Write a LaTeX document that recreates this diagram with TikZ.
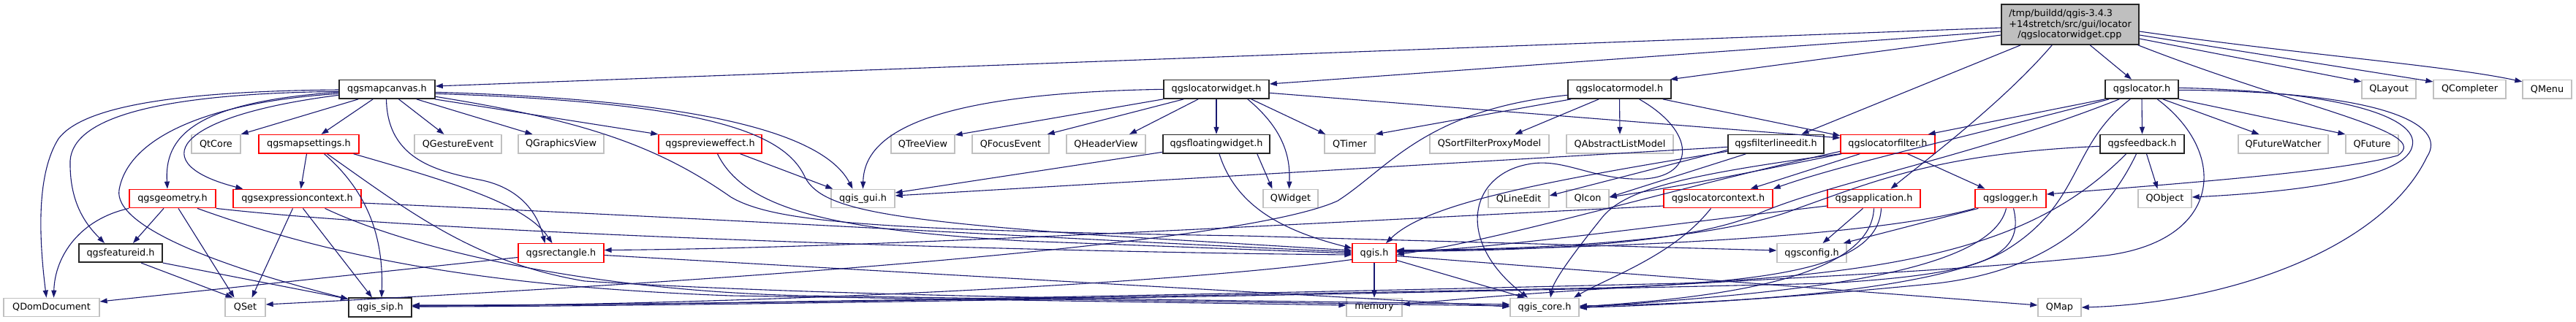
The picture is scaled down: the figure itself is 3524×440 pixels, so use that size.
\documentclass[tikz,border=0pt]{standalone}
\usepackage{fontspec}
\setmainfont{DejaVu Sans}
\usetikzlibrary{arrows.meta}
\definecolor{edgec}{HTML}{191970}
\definecolor{grayb}{HTML}{C0C0C0}
\definecolor{mainf}{HTML}{BFBFBF}
\begin{document}
\begin{tikzpicture}[x=1pt,y=-1pt,
  box/.style={draw, fill=white, line width=1.3pt, inner sep=0pt, minimum height=25.5pt,
    font=\fontsize{12.8}{14.7}\selectfont, text=black},
  ext/.style={box, draw=grayb},
  doc/.style={box, draw=black!85, line width=1.6pt},
  redb/.style={box, draw=red},
  e/.style={draw=edgec, line width=1.1pt, -{Triangle[length=10pt,width=7pt]}}
]
\fill[white] (0,0) rectangle (3524,440);
\useasboundingbox (0,0) rectangle (3524,440);

% main
\node[doc, fill=mainf, minimum width=188pt, minimum height=55pt, align=left] (M) at (2832,33.5)
  {/tmp/buildd/qgis-3.4.3\\+14stretch/src/gui/locator\\\hspace*{12pt}/qgslocatorwidget.cpp};
% row 1
\node[doc, minimum width=131pt] (mc) at (529.5,122.3) {qgsmapcanvas.h};
\node[doc, minimum width=144pt] (lw) at (1664,122.3) {qgslocatorwidget.h};
\node[doc, minimum width=141pt] (lm) at (2215.5,122.3) {qgslocatormodel.h};
\node[doc, minimum width=100pt] (lo) at (2930,122.3) {qgslocator.h};
\node[ext, minimum width=74pt] (qlayout) at (3268,122.3) {QLayout};
\node[ext, minimum width=99pt] (qcompleter) at (3378.5,122.3) {QCompleter};
\node[ext, minimum width=67pt] (qmenu) at (3484.5,122.3) {QMenu};
% row 2
\node[ext, minimum width=67pt] (qtcore) at (295.5,197.3) {QtCore};
\node[redb, minimum width=137pt] (ms) at (422.5,197.3) {qgsmapsettings.h};
\node[ext, minimum width=119pt] (qgesture) at (626.5,197.3) {QGestureEvent};
\node[ext, minimum width=117pt] (qgraphics) at (767.5,197.3) {QGraphicsView};
\node[redb, minimum width=141pt] (pe) at (971.5,197.3) {qgsprevieweffect.h};
\node[ext, minimum width=87pt] (qtree) at (1262.5,197.3) {QTreeView};
\node[ext, minimum width=105pt] (qfocus) at (1382.5,197.3) {QFocusEvent};
\node[ext, minimum width=108pt] (qheader) at (1513,197.3) {QHeaderView};
\node[doc, minimum width=146pt] (fw) at (1664,197.3) {qgsfloatingwidget.h};
\node[ext, minimum width=69pt] (qtimer) at (1846.5,197.3) {QTimer};
\node[ext, minimum width=163pt] (qsfpm) at (2037.5,197.3) {QSortFilterProxyModel};
\node[ext, minimum width=146pt] (qalm) at (2216,197.3) {QAbstractListModel};
\node[doc, minimum width=131pt] (fle) at (2429.5,197.3) {qgsfilterlineedit.h};
\node[redb, minimum width=129pt] (lf) at (2582.5,197.3) {qgslocatorfilter.h};
\node[doc, minimum width=115pt] (fb) at (2930.5,197.3) {qgsfeedback.h};
\node[ext, minimum width=123pt] (qfw) at (3123.5,197.3) {QFutureWatcher};
\node[ext, minimum width=72pt] (qfuture) at (3245,197.3) {QFuture};
% row 3
\node[redb, minimum width=118pt] (geo) at (236,272) {qgsgeometry.h};
\node[redb, minimum width=175pt] (ec) at (406.5,272) {qgsexpressioncontext.h};
\node[ext, minimum width=87pt] (gui) at (1180.5,272) {qgis\_gui.h};
\node[ext, minimum width=75pt] (qwidget) at (1765.5,272) {QWidget};
\node[ext, minimum width=83pt] (qlineedit) at (2077.5,272) {QLineEdit};
\node[ext, minimum width=58pt] (qicon) at (2172,272) {QIcon};
\node[redb, minimum width=149pt] (lc) at (2350.5,272) {qgslocatorcontext.h};
\node[redb, minimum width=127pt] (app) at (2563.5,272) {qgsapplication.h};
\node[redb, minimum width=97pt] (log) at (2750.5,272) {qgslogger.h};
\node[ext, minimum width=73pt] (qobject) at (2961.5,272) {QObject};
% row 4
\node[doc, minimum width=114pt] (fid) at (165,346.5) {qgsfeatureid.h};
\node[redb, minimum width=117pt] (rect) at (767.5,346.5) {qgsrectangle.h};
\node[redb, minimum width=60pt] (qgis) at (1880,346.5) {qgis.h};
\node[ext, minimum width=95pt] (cfg) at (2478.5,346.5) {qgsconfig.h};
% row 5
\node[ext, minimum width=131pt] (qdom) at (70.5,421) {QDomDocument};
\node[ext, minimum width=55pt] (qset) at (335.5,421) {QSet};
\node[doc, minimum width=86pt] (sip) at (520,421) {qgis\_sip.h};
\node[ext, minimum width=76pt] (mem) at (1880,421) {memory};
\node[ext, minimum width=94pt] (core) at (2113,421) {qgis\_core.h};
\node[ext, minimum width=59pt] (qmap) at (2817.5,421) {QMap};

% ---- edges from main
\draw[e] ([yshift=-4.5]M.west) -- ([yshift=4.3]mc.east);
\draw[e] ([yshift=-9.5]M.west) -- ([yshift=7.3]lw.east);
\draw[e] ([yshift=-14.5]M.west) -- ([xshift=-2]lm.north east);
\draw[e] ([xshift=27]M.south west) -- ([xshift=35]fle.north);
\draw[e] ([xshift=70]M.south west) .. controls (2740,140) and (2640,215) .. ([xshift=23]app.north);
\draw[e] ([xshift=122]M.south west) -- ([xshift=-14]lo.north);
\draw[e] ([yshift=-19.5]M.east) -- ([yshift=-3]qlayout.north west);
\draw[e] ([yshift=-14.5]M.east) -- ([yshift=-3]qcompleter.north west);
\draw[e] ([yshift=-9.5]M.east) .. controls (3150,75) and (3350,90) .. ([yshift=-3]qmenu.north west);
\draw[e] ([xshift=-2]M.south east) .. controls (3150,150) and (3330,180) .. (3280,213) .. controls (3200,235) and (3000,250) .. ([yshift=6]log.east);

% ---- qgslocator.h
\draw[e] (lo.south west) -- ([xshift=-10]lf.north east);
\draw[e] ([xshift=6]lo.south west) .. controls (2700,185) and (2520,225) .. (lc.north east);
\draw[e] ([xshift=20]lo.south west) .. controls (2700,215) and (2500,250) .. (2400,295) .. controls (2300,335) and (2100,343) .. ([yshift=2]qgis.east);
\draw[e] ([xshift=35]lo.south west) .. controls (2830,200) and (2850,280) .. (2740,345) .. controls (2650,395) and (2400,415) .. ([yshift=2]core.east);
\draw[e] ([xshift=72]lo.south west) .. controls (3050,210) and (3040,330) .. (2880,350) .. controls (2600,380) and (2250,385) .. ([yshift=4]mem.east);
\draw[e] (lo.south) -- (fb.north);
\draw[e] ([xshift=-22]lo.south east) -- ([xshift=-33]qfw.north);
\draw[e] (lo.south east) -- (qfuture.north west);
\draw[e] ([yshift=2]lo.east) .. controls (3200,125) and (3310,160) .. (3300,200) .. controls (3290,250) and (3100,265) .. ([yshift=2]qobject.east);
\draw[e] ([yshift=-1]lo.east) .. controls (3260,125) and (3350,170) .. (3320,215) .. controls (3260,340) and (3050,415) .. (qmap.east);

% ---- qgsfeedback.h
\draw[e] ([xshift=6]fb.south) -- ([xshift=-10]qobject.north);
\draw[e] ([xshift=-8]fb.south) .. controls (2880,300) and (2800,370) .. (2650,388) .. controls (2480,405) and (2300,418) .. (core.east);
\draw[e] ([yshift=-3]fb.west) .. controls (2650,210) and (2560,250) .. (2460,285) .. controls (2350,330) and (2100,342) .. ([yshift=4]qgis.east);
\draw[e] ([xshift=-22]fb.south) .. controls (2800,320) and (2650,372) .. (2300,388) .. controls (1600,405) and (900,418) .. ([yshift=2]sip.east);

% ---- qgslogger.h
\draw[e] ([xshift=5]log.south west) -- ([xshift=-5]cfg.north east);
\draw[e] ([xshift=-6]log.south) .. controls (2720,390) and (2350,405) .. ([yshift=-1]core.east);
\draw[e] ([xshift=4]log.south) .. controls (2770,350) and (2720,375) .. (2500,388) .. controls (1800,405) and (900,420) .. ([yshift=1]sip.east);
\draw[e] (log.south west) .. controls (2560,325) and (2200,340) .. ([yshift=3]qgis.east);

% ---- qgsapplication.h
\draw[e] ([xshift=-15]app.south) -- ([xshift=15]cfg.north);
\draw[e] (app.south) .. controls (2560,370) and (2400,405) .. ([yshift=1]core.east);
\draw[e] ([yshift=-10]app.west) .. controls (2300,305) and (2050,340) .. ([yshift=1]qgis.east);
\draw[e] ([xshift=10]app.south) .. controls (2570,360) and (2450,385) .. (2200,394) .. controls (1500,408) and (900,418) .. ([yshift=3]sip.east);

% ---- qgslocatorcontext.h
\draw[e] ([yshift=-10]lc.west) .. controls (1800,305) and (1200,340) .. ([yshift=4]rect.east);
\draw[e] ([xshift=-10]lc.south) .. controls (2290,350) and (2200,380) .. ([xshift=40]core.north);

% ---- qgslocatorfilter.h
\draw[e] ([xshift=27]lf.south west) -- ([xshift=-31]lc.north east);
\draw[e] ([xshift=2]lf.south west) .. controls (2400,235) and (2300,255) .. ([yshift=2]qicon.east);
\draw[e] ([xshift=-38]lf.south east) -- ([xshift=-35]log.north);
\draw[e] (lf.south west) .. controls (2300,240) and (2220,260) .. (2190,300) .. controls (2150,350) and (2125,385) .. ([xshift=8]core.north);
\draw[e] ([yshift=-10]lf.west) .. controls (2300,255) and (2050,330) .. ([yshift=-2]qgis.east);

% ---- qgsfilterlineedit.h
\draw[e] ([yshift=-8]fle.west) -- ([yshift=4]qlineedit.east);
\draw[e] ([xshift=25]fle.south west) -- ([yshift=2]qicon.east);
\draw[e] ([yshift=-4]fle.west) -- ([yshift=4]gui.east);
\draw[e] ([yshift=-10]fle.west) .. controls (2100,250) and (1950,280) .. ([xshift=16]qgis.north);

% ---- qgslocatormodel.h
\draw[e] ([xshift=5]lm.south west) -- (qtimer.north east);
\draw[e] ([xshift=43]lm.south west) -- ([xshift=35]qsfpm.north);
\draw[e] (lm.south) -- (qalm.north);
\draw[e] ([xshift=-12]lm.south east) -- ([yshift=-2]lf.north west);
\draw[e] ([xshift=27]lm.south) .. controls (2320,180) and (2320,240) .. (2250,245) .. controls (2180,248) and (2140,215) .. (2090,225) .. controls (2010,240) and (1990,330) .. ([xshift=-23]core.north);
\draw[e] ([yshift=-8]lm.west) .. controls (1950,150) and (1900,230) .. (1830,275) .. controls (1700,335) and (1000,385) .. ([yshift=4]qset.east);

% ---- qgslocatorwidget.h
\draw[e] (lw.west) .. controls (1250,128) and (1182,190) .. (gui.north);
\draw[e] (lw.south west) -- ([yshift=-1]qtree.north east);
\draw[e] ([xshift=28]lw.south west) -- ([xshift=-3]qfocus.north east);
\draw[e] ([xshift=48]lw.south west) -- ([xshift=32]qheader.north);
\draw[e] (lw.south) -- (fw.north);
\draw[e] ([xshift=-25]lw.south east) -- ([xshift=2]qtimer.north west);
\draw[e] ([xshift=-30]lw.south east) .. controls (1760,180) and (1765,220) .. ([xshift=-2]qwidget.north);
\draw[e] ([yshift=-5]lw.east) -- ([yshift=-5]lf.north west);

% ---- qgsfloatingwidget.h
\draw[e] ([yshift=-11]fw.west) -- ([yshift=8]gui.east);
\draw[e] ([xshift=-18]fw.south east) -- ([xshift=-25]qwidget.north);
\draw[e] ([xshift=4]fw.south) .. controls (1690,280) and (1750,315) .. ([yshift=6.5]qgis.west);

% ---- qgsprevieweffect.h
\draw[e] ([xshift=-30]pe.south east) -- ([xshift=3]gui.north west);
\draw[e] ([xshift=10]pe.south) .. controls (1020,290) and (1150,315) .. (1400,330) -- ([yshift=-0.5]qgis.west);

% ---- qgsmapcanvas.h
\draw[e] ([yshift=-0.7]mc.west) .. controls (220,125) and (110,150) .. (80,190) .. controls (55,230) and (50,300) .. ([xshift=-7]qdom.north);
\draw[e] ([yshift=-3]mc.west) .. controls (220,128) and (100,160) .. (96,220) .. controls (95,275) and (115,305) .. ([xshift=-22]fid.north);
\draw[e] ([yshift=-6]mc.west) .. controls (280,140) and (175,190) .. (163,260) .. controls (155,310) and (300,365) .. ([yshift=-2]sip.north west);
\draw[e] ([yshift=-4]mc.west) .. controls (260,140) and (225,190) .. ([xshift=-7]geo.north);
\draw[e] ([yshift=-8]mc.west) .. controls (230,160) and (200,225) .. ([xshift=14]ec.north west);
\draw[e] ([xshift=27]mc.south west) -- (qtcore.north east);
\draw[e] ([xshift=47]mc.south west) -- ([xshift=17]ms.north);
\draw[e] ([xshift=-1]mc.south) .. controls (530,220) and (600,235) .. (660,247) .. controls (710,258) and (735,290) .. ([xshift=-22]rect.north);
\draw[e] ([xshift=16]mc.south) -- ([xshift=-19]qgesture.north);
\draw[e] ([xshift=-26]mc.south east) -- ([xshift=-39]qgraphics.north);
\draw[e] ([xshift=-1]mc.south east) -- (pe.north west);
\draw[e] ([yshift=-4]mc.east) .. controls (900,135) and (1120,170) .. ([xshift=-14]gui.north);
\draw[e] ([yshift=-6]mc.east) .. controls (960,140) and (1070,180) .. (1100,240) .. controls (1120,285) and (1200,300) .. (1500,322) -- ([yshift=3.5]qgis.west);
\draw[e] ([yshift=-10]mc.east) .. controls (800,165) and (900,200) .. (1000,270) .. controls (1060,305) and (1200,315) .. (1700,323) -- ([yshift=3.5]cfg.west);

% ---- qgsmapsettings.h
\draw[e] ([xshift=-3]ms.south) -- ([xshift=5]ec.north);
\draw[e] ([xshift=21]ms.south) .. controls (500,260) and (525,320) .. ([xshift=2]sip.north);
\draw[e] ([xshift=-8]ms.south east) .. controls (620,250) and (720,280) .. ([xshift=-12]rect.north);
\draw[e] ([xshift=25]ms.south) .. controls (560,290) and (650,360) .. (800,385) .. controls (1200,410) and (1800,412) .. ([yshift=4]core.west);

% ---- qgsexpressioncontext.h
\draw[e] ([xshift=-6]ec.south) -- ([xshift=9]qset.north);
\draw[e] ([xshift=8]ec.south) -- ([xshift=-11]sip.north);
\draw[e] ([yshift=-6]ec.east) .. controls (1000,300) and (1500,330) .. ([yshift=1.5]qgis.west);
\draw[e] ([xshift=38]ec.south) .. controls (560,340) and (800,398) .. (1100,405) -- ([yshift=2]core.west);

% ---- qgsgeometry.h
\draw[e] (geo.south west) .. controls (110,300) and (75,350) .. ([xshift=3]qdom.north);
\draw[e] ([xshift=-12]geo.south) -- ([xshift=17]fid.north);
\draw[e] ([xshift=8]geo.south) -- ([xshift=-15]qset.north);
\draw[e] ([xshift=34]geo.south) .. controls (450,350) and (650,392) .. (1000,405) -- ([yshift=3]mem.west);
\draw[e] (geo.south east) .. controls (600,320) and (1400,345) .. ([yshift=-2.5]qgis.west);

% ---- qgsrectangle.h
\draw[e] ([yshift=-6]rect.west) -- ([yshift=8]qdom.east);
\draw[e] ([yshift=-3]rect.east) -- ([yshift=1]core.west);

% ---- qgsfeatureid.h
\draw[e] ([xshift=28]fid.south) -- ([xshift=-17]qset.north);
\draw[e] (fid.south east) -- ([yshift=-2]sip.north west);

% ---- qgis.h
\draw[e] (qgis.south) -- (mem.north);
\draw[e] ([yshift=-10]qgis.east) -- ([xshift=-27]core.north);
\draw[e] ([yshift=-4]qgis.east) -- ([yshift=3]qmap.west);
\draw[e] ([yshift=-9]qgis.west) .. controls (1600,390) and (1000,418) .. ([yshift=2]sip.east);
\end{tikzpicture}
\end{document}
